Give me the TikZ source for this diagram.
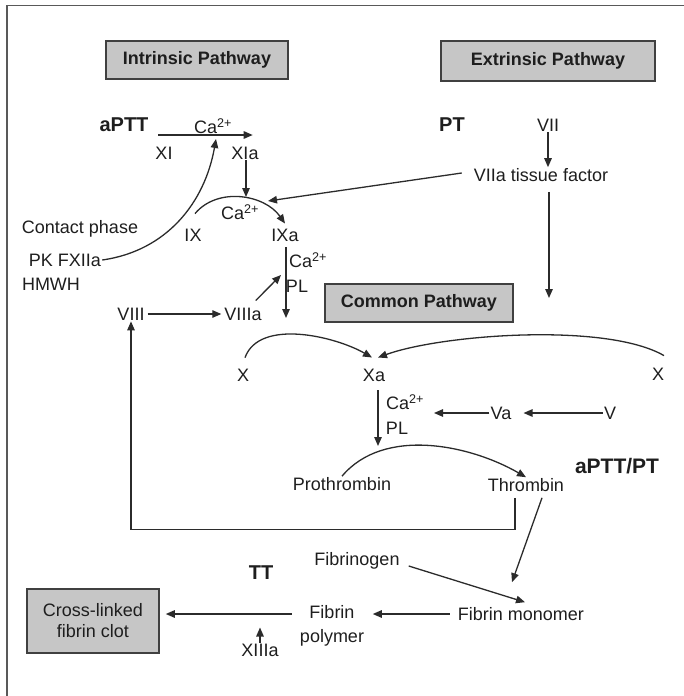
\documentclass[tikz,border=0pt]{standalone}
\usepackage{fontspec}
\setmainfont{Liberation Sans}
\usetikzlibrary{arrows.meta,calc}
\definecolor{trait}{HTML}{2B2B2B}
\definecolor{fond}{HTML}{C6C6C6}
\definecolor{encre}{HTML}{1E1E1E}
\begin{document}
\begin{tikzpicture}[x=1pt,y=1pt,
  fleche/.style={draw=trait, line width=1.3pt, -{Triangle[length=9pt,width=7.5pt]}},
  boite/.style={draw=trait!90, fill=fond, line width=1.6pt, inner sep=0pt},
  titre/.style={font=\fontsize{18}{22}\selectfont\bfseries},
  gras/.style={font=\fontsize{20}{24}\selectfont\bfseries},
  every node/.append style={text=encre, inner sep=1pt, font=\fontsize{18}{21}\selectfont}]
\useasboundingbox (0,0) rectangle (684,-696);
% Cadre
\draw[draw=gray!70!black, line width=1.5pt] (684,-5.5) -- (7,-5.5) -- (7,-696);
% Voies
\node[boite, titre, minimum width=182pt, minimum height=38pt] (intr) at (197,-60) {Intrinsic Pathway};
\node[boite, titre, minimum width=214pt, minimum height=40pt] (extr) at (548,-61) {Extrinsic Pathway};
\node[boite, titre, minimum width=188pt, minimum height=38pt] (comm) at (419,-303) {Common Pathway};
\node[boite, align=center, minimum width=132pt, minimum height=64pt] (caillot) at (93,-621) {Cross-linked\\fibrin clot};
% Voie intrinseque
\node[gras] (aptt) at (124,-125) {aPTT};
\node (ca1) at (213,-126) {Ca\textsuperscript{2+}};
\node (xi) at (164,-153) {XI};
\node (xia) at (245,-153) {XIa};
\node (contact) at (80,-229) {Contact phase};
\node (pk) at (65,-260) {PK FXIIa};
\node (hmwh) at (51,-284) {HMWH};
\node (ix) at (193,-235) {IX};
\node (ixa) at (285,-235) {IXa};
\node (ca2) at (240,-212) {Ca\textsuperscript{2+}};
\node (ca3) at (308,-260) {Ca\textsuperscript{2+}};
\node (pl1) at (297,-286) {PL};
\node (viii) at (131,-314) {VIII};
\node (viiia) at (243,-314) {VIIIa};
% Voie extrinseque
\node[gras] (pt) at (452,-125) {PT};
\node (vii) at (548,-125) {VII};
\node (viia) at (541,-175) {VIIa tissue factor};
% Voie commune
\node (xg) at (243,-375) {X};
\node (xa) at (374,-375) {Xa};
\node (xd) at (658,-374) {X};
\node (ca4) at (405,-402) {Ca\textsuperscript{2+}};
\node (pl2) at (397,-428) {PL};
\node (va) at (501,-413) {Va};
\node (v) at (610,-413) {V};
\node (proth) at (342,-484) {Prothrombin};
\node (thromb) at (526,-485) {Thrombin};
\node[gras, font=\fontsize{21}{24}\selectfont\bfseries] (apttpt) at (617,-466) {aPTT/PT};
\node (fibrinogene) at (357,-561) {Fibrinogen};
\node[gras] (tt) at (261,-573) {TT};
\node (monomere) at (521,-614) {Fibrin monomer};
\node[align=center, font=\fontsize{18}{24}\selectfont] (polymere) at (332,-626) {Fibrin\\polymer};
\node (xiiia) at (260,-650) {XIIIa};
% Points sur les fleches
\coordinate (contact11) at (216,-139);
\coordinate (sommet9) at (246,-197);
\coordinate (arc9) at (268,-201);
\coordinate (pointe8) at (281,-275);
\coordinate (fleche9) at (286,-318);
\coordinate (bas7) at (549,-298);
\coordinate (bas10) at (378,-446);
\coordinate (pointe5) at (434,-413);
% Fleches intrinseques
\draw[fleche] ($(xi.west)+(4,18)$) -- ($(xia.east)+(-7,18)$);
\draw[fleche] (pk.east) to[out=8,in=-100] (contact11);
\draw[fleche] (xia.south -| sommet9) -- (sommet9);
\draw[fleche] ($(ix.north)+(2,14)$) to[out=50,in=125] ($(ixa.north)+(0,4)$);
\draw[fleche] ($(ixa.south)+(1,-5)$) -- (fleche9);
\draw[fleche] ($(viiia.north east)+(-7,6)$) -- (pointe8);
\draw[fleche, shorten <=2pt, shorten >=2pt] (viii.east) -- (viiia.west);
% Fleches extrinseques
\draw[fleche] (vii.south) -- (vii.south |- viia.north);
\draw[fleche] ($(viia.west)+(-11,2)$) -- (arc9);
\draw[fleche] ($(viia.south)+(8,-9)$) -- (bas7);
% Fleches communes
\draw[fleche] ($(xg.north)+(2,10)$) to[out=70,in=150,looseness=0.85] ($(xa.north)+(-2,10)$);
\draw[fleche] ($(xd.north)+(6,11)$) to[out=150,in=20,looseness=0.6] ($(xa.north)+(4,10)$);
\draw[fleche] ($(xa.south)+(4,-8)$) -- (bas10);
\draw[fleche] (va.west) -- (pointe5);
\draw[fleche, shorten >=11pt] (v.west) -- (va.east);
\draw[fleche] (proth.north) to[out=50,in=150,looseness=0.9] (thromb.north);
\draw[fleche] ($(thromb.south)+(-11,-5)$) -- ++(0,-32) -| (viii.south);
\draw[fleche] ($(thromb.south)+(16,-5)$) -- ($(monomere.north)+(-9,24)$);
\draw[fleche] ($(fibrinogene.east)+(8,-5)$) -- ($(monomere.north)+(4,4)$);
\draw[fleche] ($(monomere.west)+(-7,0)$) -- ++(-77,0);
\draw[fleche, shorten <=7pt, shorten >=6pt] (monomere.west -| polymere.west) -- (monomere.west -| caillot.east);
\draw[fleche] (xiiia.north) -- ++(0,15);
\end{tikzpicture}
\end{document}
